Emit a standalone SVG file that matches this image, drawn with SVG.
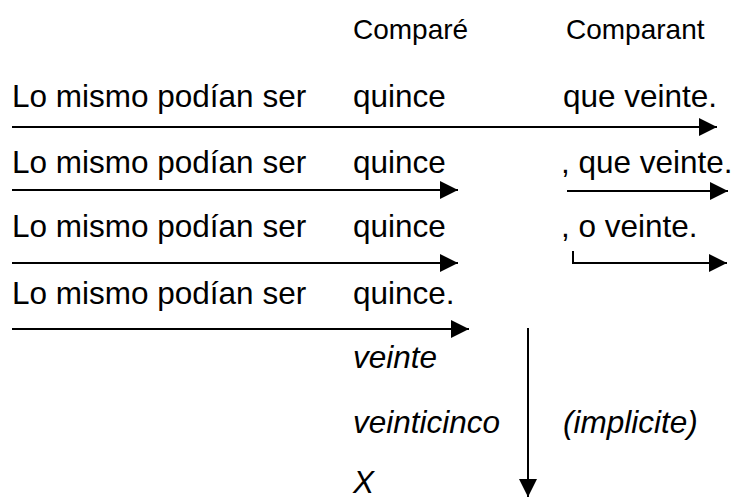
<svg xmlns="http://www.w3.org/2000/svg" width="742" height="501" viewBox="0 0 742 501">
<style>
text{font-family:"Liberation Sans",Arial,sans-serif;font-size:31.5px;fill:#000}
.h{font-size:28px}
.i{font-style:italic}
.c{fill:none;stroke:#000;stroke-width:2}
</style>
<defs>
<marker id="ah" markerUnits="userSpaceOnUse" markerWidth="19" markerHeight="19" refX="18" refY="9" orient="auto">
<path d="M0,0 L18,9 L0,18 z" fill="#000"/>
</marker>
</defs>
<rect width="742" height="501" fill="#fff"/>
<g id="headers">
<text class="h" x="353" y="39">Comparé</text>
<text class="h" x="566" y="39">Comparant</text>
</g>
<g id="row1">
<text x="12" y="107">Lo mismo podían ser</text>
<text x="353" y="107">quince</text>
<text x="563" y="107">que veinte.</text>
</g>
<g id="row2">
<text x="12" y="173">Lo mismo podían ser</text>
<text x="353" y="173">quince</text>
<text x="561" y="173">, que veinte.</text>
</g>
<g id="row3">
<text x="12" y="237">Lo mismo podían ser</text>
<text x="353" y="237">quince</text>
<text x="561" y="237">, o veinte.</text>
</g>
<g id="row4">
<text x="12" y="304">Lo mismo podían ser</text>
<text x="353" y="304">quince.</text>
</g>
<g id="implicit">
<text class="i" x="353" y="368">veinte</text>
<text class="i" x="353" y="433">veinticinco</text>
<text class="i" x="353" y="493">X</text>
<text class="i" x="563" y="433">(implicite)</text>
</g>
<g id="connectors">
<line class="c" x1="12" y1="127" x2="717" y2="127" marker-end="url(#ah)"/>
<line class="c" x1="12" y1="190" x2="458" y2="190" marker-end="url(#ah)"/>
<line class="c" x1="567" y1="191" x2="728" y2="191" marker-end="url(#ah)"/>
<line class="c" x1="12" y1="263" x2="458" y2="263" marker-end="url(#ah)"/>
<polyline class="c" points="573,251 573,263 727,263" marker-end="url(#ah)"/>
<line class="c" x1="12" y1="329" x2="469" y2="329" marker-end="url(#ah)"/>
<line class="c" x1="528" y1="328" x2="528" y2="497" marker-end="url(#ah)"/>
</g>
</svg>
